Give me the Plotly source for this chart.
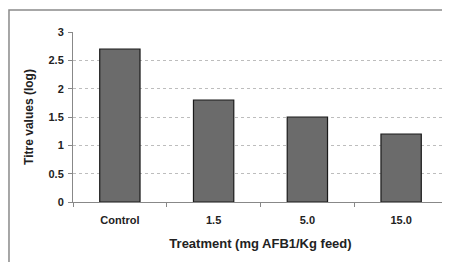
import plotly.graph_objects as go

categories = ["Control", "1.5", "5.0", "15.0"]
titre_values = [2.7, 1.8, 1.5, 1.2]
y_ticks = [0, 0.5, 1, 1.5, 2, 2.5, 3]
y_tick_labels = ["0", "0.5", "1", "1.5", "2", "2.5", "3"]

font_family = "Liberation Sans, Arial, sans-serif"

fig = go.Figure(
    go.Bar(
        x=categories,
        y=titre_values,
        marker=dict(color="#6b6b6b", line=dict(color="#1a1a1a", width=1.2)),
    )
)

fig.update_layout(
    width=450,
    height=262,
    margin=dict(l=65, r=10, t=24, b=68),
    paper_bgcolor="white",
    plot_bgcolor="white",
    bargap=0.57,
    showlegend=False,
    font=dict(family=font_family, color="#222", size=11),
    shapes=[
        dict(
            type="rect", xref="paper", yref="paper",
            x0=-0.1707, x1=1.2, y0=-0.6, y1=1.129,
            line=dict(color="#8a8a8a", width=1.5), fillcolor="rgba(0,0,0,0)",
            layer="below",
        )
    ],
)

fig.update_xaxes(
    type="category",
    showline=True, linecolor="#888", linewidth=1,
    ticks="outside", tickson="boundaries", ticklen=4, tickcolor="#888",
    tickfont=dict(size=11, weight="bold"), ticklabelstandoff=8,
    title=dict(text="Treatment (mg AFB1/Kg feed)", font=dict(size=13, weight="bold"), standoff=13),
    showgrid=False,
)

fig.update_yaxes(
    range=[0, 3],
    tickvals=y_ticks, ticktext=y_tick_labels,
    showline=True, linecolor="#888", linewidth=1,
    ticks="outside", ticklen=4, tickcolor="#888",
    tickfont=dict(size=11, weight="bold"), ticklabelstandoff=2,
    showgrid=True, gridcolor="#bdbdbd", griddash="dot", gridwidth=1,
    zeroline=False,
    title=dict(text="Titre values (log)", font=dict(size=12, weight="bold"), standoff=12),
)

fig.write_html("out.html")
